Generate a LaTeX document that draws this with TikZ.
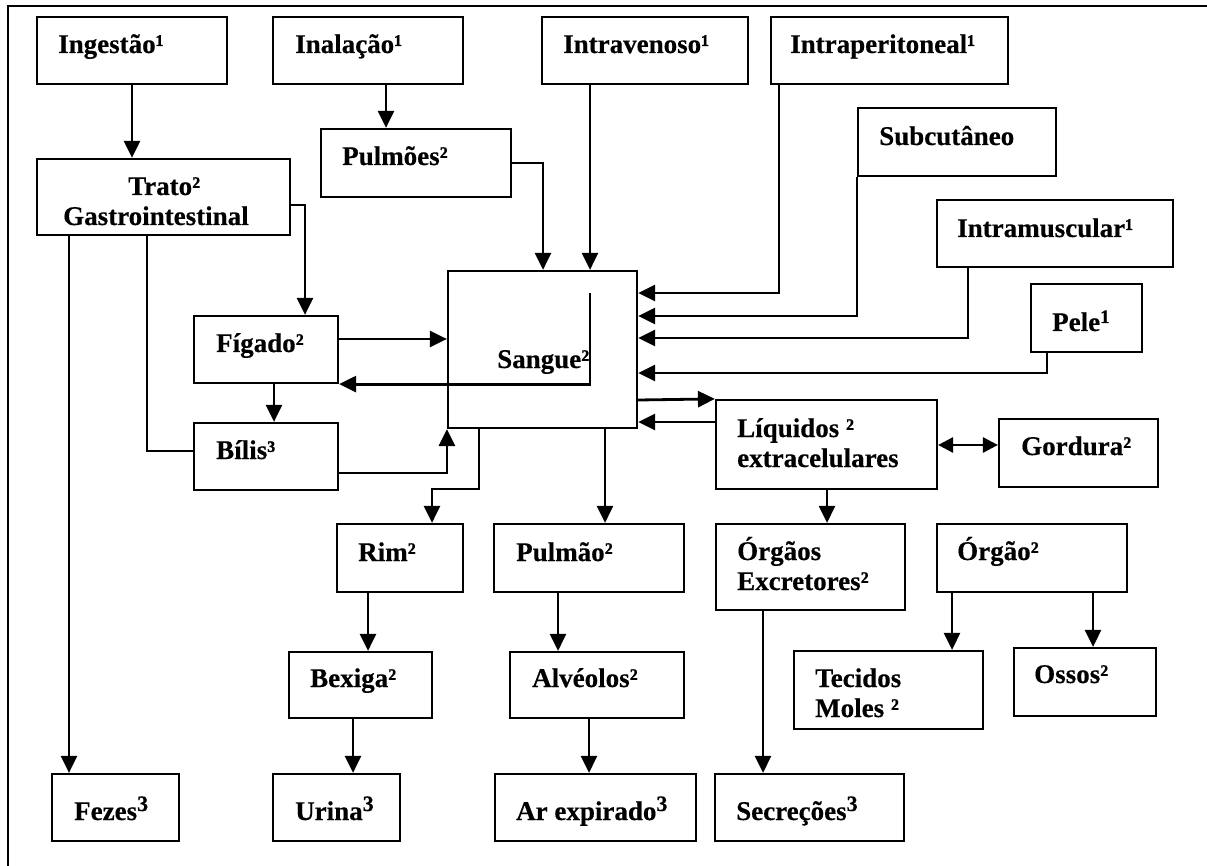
\documentclass[tikz,border=0pt]{standalone}
\usepackage{fontspec}
\setmainfont{Liberation Serif}[BoldFeatures={FakeBold=0.4}]
\usetikzlibrary{arrows.meta}
% raised, larger index digit
\newcommand\hisup[1]{\raisebox{9pt}{\fontsize{22}{22}\selectfont #1}}
\newcommand\pelesup[1]{\raisebox{8pt}{\fontsize{19}{19}\selectfont #1}}
\begin{document}
\begin{tikzpicture}[x=1pt,y=-1pt,
  box/.style={draw, line width=2.2pt, rectangle, inner sep=0pt},
  lbl/.style={anchor=base west, inner sep=0pt, font=\fontsize{27}{30}\selectfont\bfseries},
  arr/.style={line width=2.8pt, -{Triangle[length=17pt,width=16pt]}},
  darr/.style={line width=2.8pt, {Triangle[length=15pt,width=15pt]}-{Triangle[length=15pt,width=15pt]}},
  wire/.style={line width=2.2pt}]
\useasboundingbox (0,0) rectangle (1207,866);

% outer frame
\draw[wire] (8,866) -- (8,6) -- (1207,6);

% boxes
\node[box, minimum width=190pt, minimum height=67pt] (ing) at (132,50.5) {};
\node[box, minimum width=190pt, minimum height=67pt] (ina) at (368,50.5) {};
\node[box, minimum width=206pt, minimum height=67pt] (iv) at (645,50.5) {};
\node[box, minimum width=237pt, minimum height=67pt] (ip) at (889.5,50.5) {};
\node[box, minimum width=198pt, minimum height=68pt] (sub) at (957,142) {};
\node[box, minimum width=236pt, minimum height=67pt] (im) at (1055,233.5) {};
\node[box, minimum width=111pt, minimum height=68pt] (pele) at (1086.5,318) {};
\node[box, minimum width=190pt, minimum height=68pt] (pulmoes) at (416,163) {};
\node[box, minimum width=253pt, minimum height=76pt] (trato) at (163.5,197) {};
\node[box, minimum width=189pt, minimum height=157pt] (sangue) at (542.5,349.5) {};
\node[box, minimum width=144pt, minimum height=67pt] (figado) at (266,349.5) {};
\node[box, minimum width=144pt, minimum height=67pt] (bilis) at (266,456.5) {};
\node[box, minimum width=221pt, minimum height=89pt] (liq) at (826.5,444.5) {};
\node[box, minimum width=159pt, minimum height=68pt] (gord) at (1078.5,453) {};
\node[box, minimum width=126pt, minimum height=68pt] (rim) at (400,558) {};
\node[box, minimum width=190pt, minimum height=68pt] (pulmao) at (589,558) {};
\node[box, minimum width=189pt, minimum height=86pt] (orgs) at (810.5,567) {};
\node[box, minimum width=190pt, minimum height=68pt] (orgao) at (1032,558) {};
\node[box, minimum width=143pt, minimum height=66pt] (bexiga) at (360.5,685) {};
\node[box, minimum width=174pt, minimum height=66pt] (alv) at (597,685) {};
\node[box, minimum width=189pt, minimum height=78pt] (tec) at (888.5,690) {};
\node[box, minimum width=142pt, minimum height=68pt] (ossos) at (1085,682) {};
\node[box, minimum width=127pt, minimum height=67pt] (fezes) at (115.5,807.5) {};
\node[box, minimum width=127pt, minimum height=67pt] (urina) at (336.5,807.5) {};
\node[box, minimum width=201pt, minimum height=67pt] (ar) at (595.5,807.5) {};
\node[box, minimum width=189pt, minimum height=67pt] (sec) at (809.5,807.5) {};

% labels
\node[lbl] (t-ing) at (58,53) {Ingestão¹};
\node[lbl] (t-ina) at (295,53) {Inalação¹};
\node[lbl] (t-iv) at (563,53) {Intravenoso¹};
\node[lbl] (t-ip) at (790,53) {Intraperitoneal¹};
\node[lbl] (t-sub) at (879,145) {Subcutâneo};
\node[lbl] (t-im) at (957,237) {Intramuscular¹};
\node[lbl] (t-pele) at (1052,331) {Pele\pelesup{1}};
\node[lbl] (t-pulmoes) at (342,165) {Pulmões²};
\node[lbl] (t-trato1) at (128,195) {Trato²};
\node[lbl] (t-trato2) at (63,225) {Gastrointestinal};
\node[lbl] (t-sangue) at (497,368) {Sangue²};
\node[lbl] (t-figado) at (216,352) {Fígado²};
\node[lbl] (t-bilis) at (216,459) {Bílis³};
\node[lbl] (t-liq1) at (737,437) {Líquidos ²};
\node[lbl] (t-liq2) at (737,467) {extracelulares};
\node[lbl] (t-gord) at (1021,455) {Gordura²};
\node[lbl] (t-rim) at (358,561) {Rim²};
\node[lbl] (t-pulmao) at (516,561) {Pulmão²};
\node[lbl] (t-orgs1) at (737,560) {Órgãos};
\node[lbl] (t-orgs2) at (737,590) {Excretores²};
\node[lbl] (t-orgao) at (957,560) {Órgão²};
\node[lbl] (t-bexiga) at (310,687) {Bexiga²};
\node[lbl] (t-alv) at (532,687) {Alvéolos²};
\node[lbl] (t-tec1) at (815,687) {Tecidos};
\node[lbl] (t-tec2) at (815,717) {Moles ²};
\node[lbl] (t-ossos) at (1034,683) {Ossos²};
\node[lbl] (t-fezes) at (74,820) {Fezes\hisup{3}};
\node[lbl] (t-urina) at (295,820) {Urina\hisup{3}};
\node[lbl] (t-ar) at (516,820) {Ar expirado\hisup{3}};
\node[lbl] (t-sec) at (736,820) {Secreções\hisup{3}};

% routes of entry
\draw[arr] (ing.south) -- (ing.south |- trato.north);
\draw[arr] (386,0 |- ina.south) -- (386,0 |- pulmoes.north);
\draw[arr] (pulmoes.east) -| (543,0 |- sangue.north);
\draw[arr] (590,0 |- iv.south) -- (590,0 |- sangue.north);
\draw[arr] (779,0 |- ip.south) |- (sangue.east |- 0,293);
\draw[arr] (sub.south west) |- (sangue.east |- 0,316);
\draw[arr] (968,0 |- im.south) |- (sangue.east |- 0,338);
\draw[arr] (1047,0 |- pele.south) |- (sangue.east |- 0,373);

% gastrointestinal tract, liver and bile
\draw[arr] (trato.east |- 0,205) -| (305,0 |- figado.north);
\draw[arr] (69,0 |- trato.south) -- (69,0 |- fezes.north);
\draw[wire] (147,0 |- trato.south) |- (bilis.west |- 0,451);
\draw[arr] (figado.east |- 0,339) -- (sangue.west |- 0,339);
\coordinate (sgin) at (590,293);
\draw[arr] (sgin) |- (figado.south east);
\draw[arr] (274,0 |- figado.south) -- (274,0 |- bilis.north);
\draw[arr] (bilis.east |- 0,473) -| (sangue.south west);

% distribution
\draw[arr] (sangue.east |- 0,400) -- (liq.north west);
\draw[arr] (liq.west |- 0,422) -- (sangue.east |- 0,422);
\draw[darr] (liq.east |- 0,445) -- (gord.west |- 0,445);
\draw[arr] (827,0 |- liq.south) -- (827,0 |- orgs.north);
\draw[arr] (952,0 |- orgao.south) -- (952,0 |- tec.north);
\draw[arr] (1093,0 |- orgao.south) -- (1093,0 |- ossos.north);

% excretion
\draw[arr] (479,0 |- sangue.south) -- (479,489) -| (432,0 |- rim.north);
\draw[arr] (605,0 |- sangue.south) -- (605,0 |- pulmao.north);
\draw[arr] (368,0 |- rim.south) -- (368,0 |- bexiga.north);
\draw[arr] (353,0 |- bexiga.south) -- (353,0 |- urina.north);
\draw[arr] (558,0 |- pulmao.south) -- (558,0 |- alv.north);
\draw[arr] (589,0 |- alv.south) -- (589,0 |- ar.north);
\draw[arr] (763,0 |- orgs.south) -- (763,0 |- sec.north);
\end{tikzpicture}
\end{document}
